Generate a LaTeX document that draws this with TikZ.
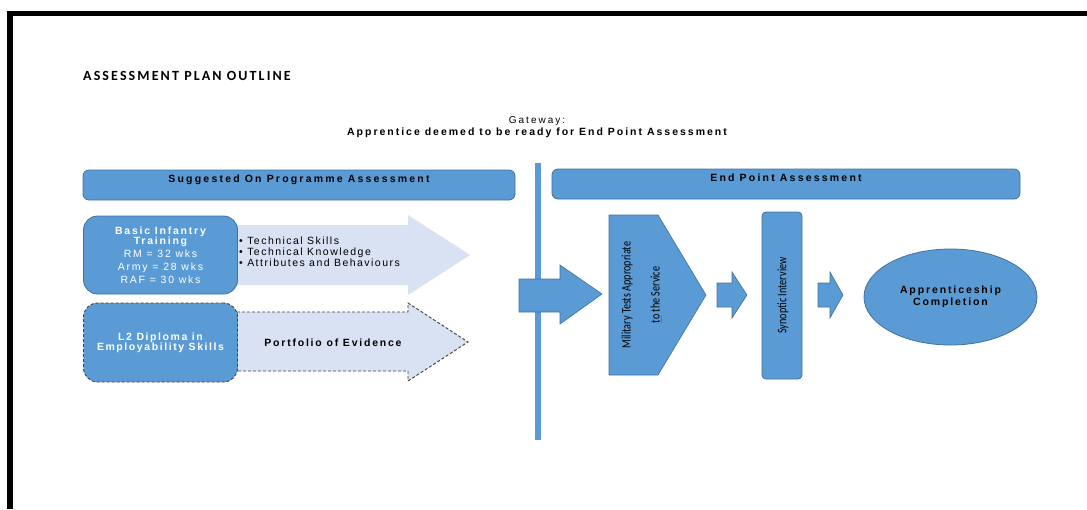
\documentclass[tikz,border=0pt]{standalone}
\usepackage{fontspec}
\setmainfont{Liberation Sans}
\newfontfamily\headfont{Carlito}
\newfontfamily\narrowfont[FakeStretch=0.78]{Carlito}
\usetikzlibrary{shapes.geometric}

\definecolor{boxblue}{HTML}{5B9BD5}
\definecolor{boxedge}{HTML}{41719C}
\definecolor{pale}{HTML}{D9E2F3}
\definecolor{dashgrey}{HTML}{404040}
\definecolor{ulgreen}{HTML}{3A9A3A}

% green underline under a word
\newcommand\greenmark[1]{\setbox0\hbox{#1}\rlap{\color{ulgreen}\rule[-2.6pt]{\wd0}{1.1pt}}\box0}

\tikzset{
  frameline/.style={line width=#1, black},
  bluebox/.style={fill=boxblue, draw=boxedge, line width=0.8pt},
  barbox/.style={bluebox, rounded corners=6pt, minimum width=#1, minimum height=30pt},
  roundbox/.style={bluebox, rounded corners=14pt, minimum width=154pt, minimum height=78pt,
    text=white, align=center, inner sep=0pt},
  dashbox/.style={fill=boxblue, draw=dashgrey, line width=0.9pt, dash pattern=on 3pt off 2pt,
    rounded corners=14pt, minimum width=154pt, minimum height=79pt,
    text=white, align=center, inner sep=0pt},
  paleshape/.style={fill=pale},
  paledash/.style={fill=pale, draw=dashgrey, line width=0.9pt, dash pattern=on 3pt off 2pt},
  bluearrow/.style={bluebox, line width=0.6pt},
  spaced/.style 2 args={inner sep=0pt, font=\fontsize{#1}{#1}\selectfont\addfontfeature{LetterSpace=#2}},
  boldspaced/.style 2 args={inner sep=0pt, font=\fontsize{#1}{#1}\selectfont\bfseries\addfontfeature{LetterSpace=#2}},
  sidetext/.style={rotate=90, font=\narrowfont\fontsize{13}{29}\selectfont, align=center, inner sep=0pt},
}

\begin{document}
\begin{tikzpicture}[x=1pt, y=-1pt]
\useasboundingbox (0,0) rectangle (1087,509);
\fill[white] (0,0) rectangle (1087,509);

% page frame
\draw[frameline=5pt] (7,13.5) -- (1087,13.5);
\draw[frameline=6pt] (10,11) -- (10,509);

% headings
\node[anchor=west, inner sep=0pt,
      font=\headfont\bfseries\fontsize{14}{14}\selectfont\addfontfeature{LetterSpace=15}]
  (title) at (83,76) {ASSESSMENT PLAN OUTLINE};
\node[spaced={10}{20}] (gateway) at (537,121) {Gateway:};
\node[boldspaced={10.5}{19}] (ready) at (537,133)
  {Apprentice deemed to be ready for End Point Assessment};

% section bars
\node[barbox=432pt] (onprog) at (299,185) {};
\node[boldspaced={10.5}{21}] (onprogtext) at (299,180) {Suggested On Programme Assessment};
\node[barbox=468pt] (epa) at (786,184) {};
\node[boldspaced={10.5}{21}] (epatext) at (786,178) {End Point Assessment};

% divider between the two stages
\draw[boxblue, line width=6pt] (538,163) -- (538,440);

% on programme: pale arrows behind the two boxes
\path[paleshape] (230,225) -- (408,225) -- (408,215) -- (470,255) -- (408,295)
  -- (408,285) -- (230,285) -- cycle;
\path[paledash] (237,312) -- (408,312) -- (408,303) -- (468,342) -- (408,381)
  -- (408,371) -- (237,371) -- cycle;

\node[roundbox, font=\fontsize{10.5}{13}\selectfont\addfontfeature{LetterSpace=17}]
  (infantry) at (160.5,255)
  {{\bfseries Basic Infantry}\\[-3pt]{\bfseries Training}\\RM = 32 wks\\Army = 28 wks\\RAF = 30 wks};
\node[anchor=west, align=left, inner sep=0pt,
      font=\fontsize{10.5}{11}\selectfont\addfontfeature{LetterSpace=14}]
  (skills) at (239,252) {\textbullet\ Technical Skills\\\textbullet\ Technical Knowledge\\\textbullet\ Attributes and Behaviours};

\node[dashbox, font=\fontsize{10.5}{10}\selectfont\bfseries\addfontfeature{LetterSpace=15}]
  (diploma) at (160.5,342.5) {L2 Diploma in\\Employability Skills};
\node[boldspaced={10.5}{17}] (portfolio) at (333,343) {Portfolio of Evidence};

% end point assessment chain
\path[bluearrow] (519,279) -- (560,279) -- (560,265) -- (602,294) -- (560,324)
  -- (560,312) -- (519,312) -- cycle;

\path[bluearrow] (609,215) -- (658,215) -- (706,295) -- (658,375) -- (609,375) -- cycle;
\node[sidetext] (tests) at (642,295) {Military Tests Appropriate\\\greenmark{to}\ the Service};

\path[bluearrow] (717,283) -- (732,283) -- (732,272) -- (747,295) -- (732,318)
  -- (732,307) -- (717,307) -- cycle;

\node[bluebox, rounded corners=4pt, minimum width=40pt, minimum height=167pt] (synoptic) at (782,295.5) {};
\node[sidetext] (synoptictext) at (783,295.5) {Synoptic Interview};

\path[bluearrow] (818,283) -- (830,283) -- (830,272) -- (843,295) -- (830,318)
  -- (830,307) -- (818,307) -- cycle;

\node[bluebox, ellipse, minimum width=173pt, minimum height=96pt, inner sep=0pt,
      align=center, font=\fontsize{10.5}{12}\selectfont\bfseries\addfontfeature{LetterSpace=18}]
  (completion) at (950.5,297) {Apprenticeship\\Completion};
\end{tikzpicture}
\end{document}
